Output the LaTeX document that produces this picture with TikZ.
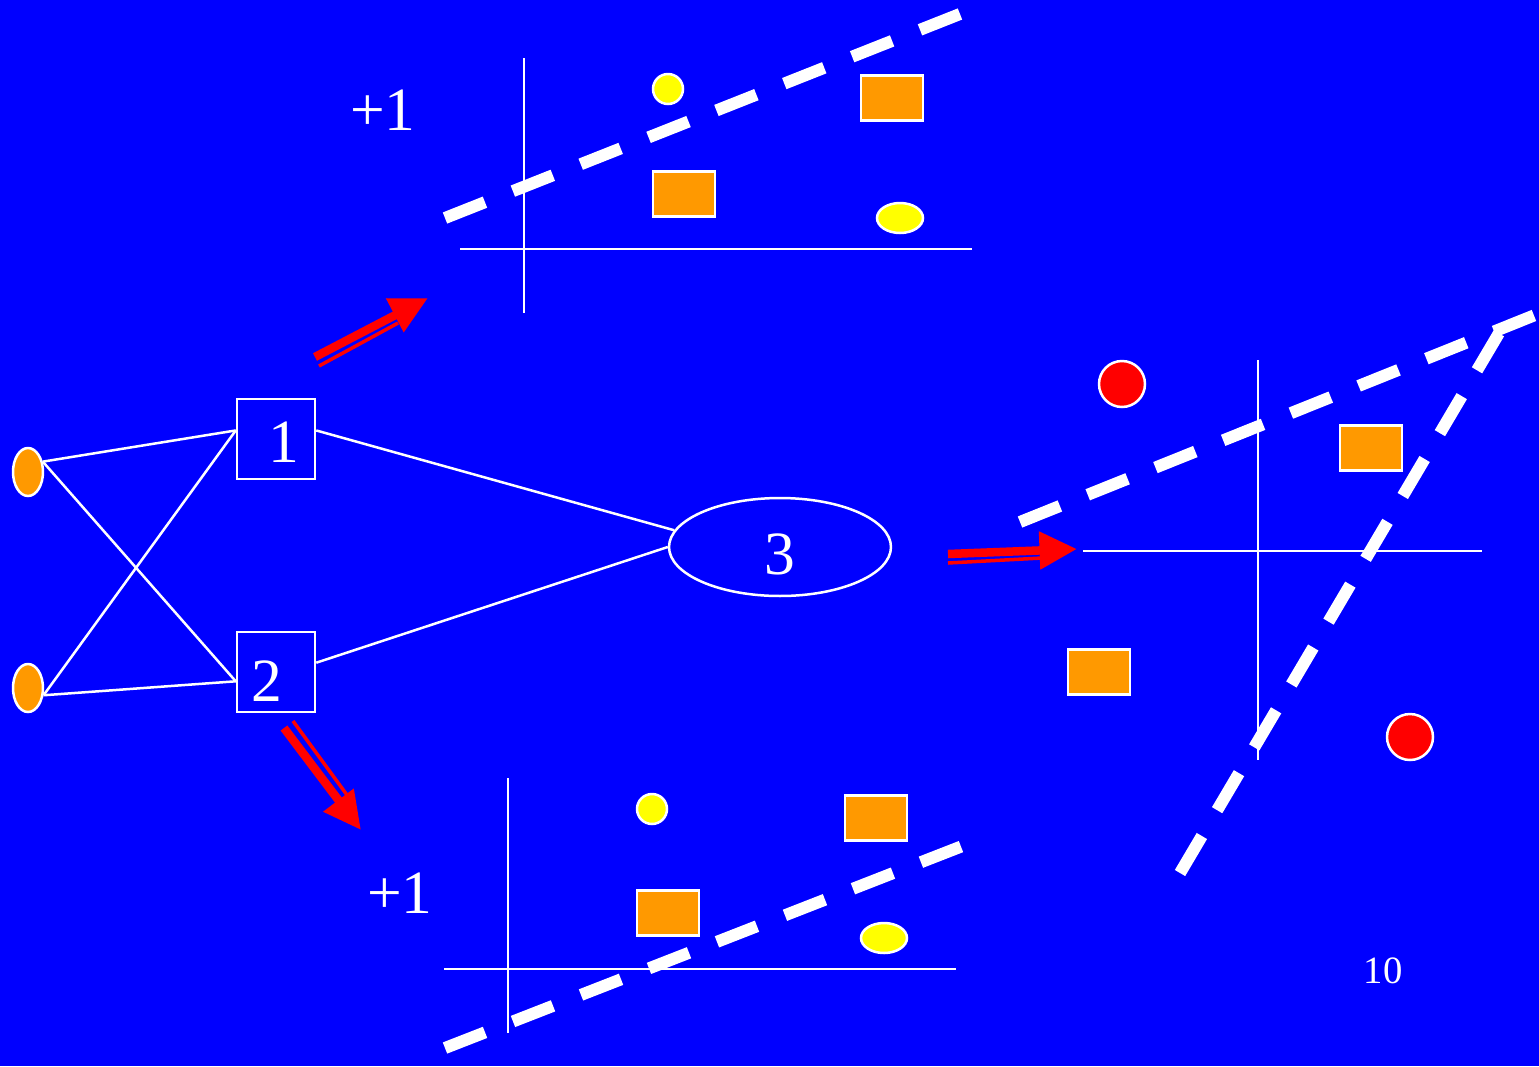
\documentclass[tikz,border=0pt]{standalone}
\usepackage{fontspec}
\setmainfont{Liberation Serif}
\usetikzlibrary{arrows.meta, shapes.geometric}

\definecolor{slideblue}{RGB}{0,0,255}
\definecolor{dotorange}{RGB}{255,153,0}
\definecolor{dotyellow}{RGB}{255,255,0}
\definecolor{dotred}{RGB}{255,0,0}

\begin{document}
\begin{tikzpicture}[
    % one unit is one pixel of the slide, y running down
    x=0.02cm, y=-0.02cm,
    % network shapes
    netline/.style={draw=white, line width=0.05cm},
    unitbox/.style={draw=white, line width=0.05cm, minimum width=1.56cm, minimum height=1.6cm, inner sep=0pt, text=white, font=\fontsize{35}{40}\selectfont, text depth=0pt},
    inputdot/.style={ellipse, draw=white, line width=0.05cm, fill=dotorange, minimum width=0.6cm, minimum height=0.96cm, inner sep=0pt},
    % plot shapes
    axis/.style={draw=white, line width=0.045cm},
    sepline/.style={draw=white, line width=0.24cm, dash pattern=on 0.86cm off 0.6cm},
    orangebox/.style={rectangle, draw=white, line width=0.05cm, fill=dotorange, minimum width=1.24cm, minimum height=0.9cm, inner sep=0pt},
    yellowdot/.style={circle, draw=white, line width=0.05cm, fill=dotyellow, minimum size=0.6cm, inner sep=0pt},
    yellowoval/.style={ellipse, draw=white, line width=0.05cm, fill=dotyellow, minimum width=0.92cm, minimum height=0.6cm, inner sep=0pt},
    reddot/.style={circle, draw=white, line width=0.05cm, fill=dotred, minimum size=0.92cm, inner sep=0pt},
    bigtext/.style={text=white, font=\fontsize{35}{40}\selectfont},
    % red arrows
    redarrow/.style={draw=dotred, line width=0.17cm, -{Triangle[length=0.75cm, width=0.72cm]}},
    redthin/.style={draw=dotred, line width=0.07cm}
]

    % --- BACKGROUND ---
    \fill[slideblue] (0,0) rectangle (1539,1066);
    \useasboundingbox (0,0) rectangle (1539,1066);
    \clip (0,0) rectangle (1539,1066);

    % --- NETWORK ---
    \node[inputdot] (in1) at (28,472) {};
    \node[inputdot] (in2) at (28,688) {};
    \node[unitbox, text height=0.95cm] (h1) at (276,439) {\rule{0.3cm}{0pt}1};
    \node[unitbox, text height=1.18cm] (h2) at (276,672) {2\rule{0.35cm}{0pt}};
    \node[unitbox, ellipse, minimum width=4.44cm, minimum height=1.96cm, text height=1.1cm] (out) at (780,547) {3};

    \draw[netline] (in1.35) -- (h1.168);
    \draw[netline] (in1.35) -- (h2.193);
    \draw[netline] (in2.-25) -- (h1.168);
    \draw[netline] (in2.-25) -- (h2.193);
    \draw[netline] (h1.12) -- (out.171);
    \draw[netline] (h2.13) -- (out.west);

    % --- TOP PLOT ---
    \coordinate (ta) at (524,58);
    \coordinate (tb) at (524,313);
    \coordinate (tc) at (460,249);
    \coordinate (td) at (972,249);
    \draw[axis] (ta) -- (tb);
    \draw[axis] (tc) -- (td);
    \node[bigtext] (tlabel) at (383,110) {+1};
    \node[yellowdot] (ty1) at (668,89) {};
    \node[orangebox] (to1) at (892,98) {};
    \node[orangebox] (to2) at (684,194) {};
    \node[yellowoval] (ty2) at (900,218) {};
    \coordinate (ts1) at (445,218);
    \coordinate (ts2) at (965,12);
    \draw[sepline] (ts1) -- (ts2);

    % --- BOTTOM PLOT ---
    \coordinate (ba) at (508,778);
    \coordinate (bb) at (508,1033);
    \coordinate (bc) at (444,969);
    \coordinate (bd) at (956,969);
    \draw[axis] (ba) -- (bb);
    \draw[axis] (bc) -- (bd);
    \node[bigtext] (blabel) at (400,893) {+1};
    \node[yellowdot] (by1) at (652,809) {};
    \node[orangebox] (bo1) at (876,818) {};
    \node[orangebox] (bo2) at (668,913) {};
    \node[yellowoval] (by2) at (884,938) {};
    \coordinate (bs1) at (445,1048);
    \coordinate (bs2) at (965,845);
    \draw[sepline] (bs1) -- (bs2);

    % --- RIGHT PLOT ---
    \coordinate (ra) at (1258,360);
    \coordinate (rb) at (1258,760);
    \coordinate (rc) at (1083,551);
    \coordinate (rd) at (1482,551);
    \draw[axis] (ra) -- (rb);
    \draw[axis] (rc) -- (rd);
    \node[reddot] (rr1) at (1122,384) {};
    \node[reddot] (rr2) at (1410,737) {};
    \node[orangebox] (ro1) at (1371,448) {};
    \node[orangebox] (ro2) at (1099,672) {};
    \coordinate (rs1) at (1020,522);
    \coordinate (rs2) at (1560,305);
    \coordinate (rs3) at (1180,873);
    \coordinate (rs4) at (1502,328);
    \draw[sepline] (rs1) -- (rs2);
    \draw[sepline] (rs3) -- (rs4);

    % --- RED ARROWS ---
    \coordinate (a1s) at (315,357);
    \coordinate (a1e) at (428,298);
    \draw[redarrow] (a1s) -- (a1e);
    \draw[redthin] (319,366) -- (398,323);

    \coordinate (a2s) at (284,728);
    \coordinate (a2e) at (361,830);
    \draw[redarrow] (a2s) -- (a2e);
    \draw[redthin] (293,721) -- (347,795);

    \coordinate (a3s) at (948,554);
    \coordinate (a3e) at (1077,549);
    \draw[redarrow] (a3s) -- (a3e);
    \draw[redthin] (948,563) -- (1042,558);

    % page number
    \node[text=white, font=\fontsize{22}{26}\selectfont] (page) at (1383,971) {10};

\end{tikzpicture}
\end{document}
